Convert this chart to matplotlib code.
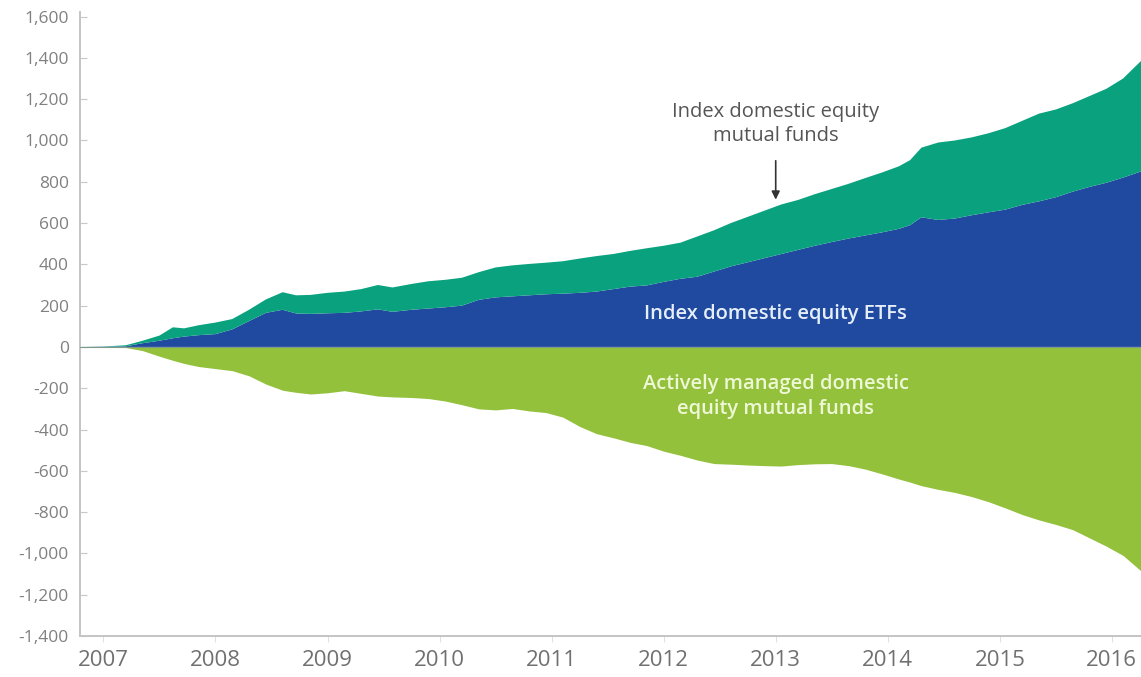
import matplotlib.pyplot as plt
from matplotlib.ticker import FuncFormatter

plt.rcParams['font.family'] = ['Open Sans', 'DejaVu Sans']

# cumulative flows, billions of dollars (decimal years)
years = [2006.79, 2007.00, 2007.20, 2007.35, 2007.50, 2007.62, 2007.72, 2007.85,
         2008.00, 2008.15, 2008.30, 2008.45, 2008.60, 2008.72, 2008.85,
         2009.00, 2009.15, 2009.30, 2009.45, 2009.58, 2009.75, 2009.90,
         2010.05, 2010.20, 2010.35, 2010.50, 2010.65, 2010.80, 2010.95,
         2011.10, 2011.25, 2011.40, 2011.55, 2011.70, 2011.85,
         2012.00, 2012.15, 2012.30, 2012.45, 2012.60, 2012.75, 2012.90,
         2013.05, 2013.20, 2013.35, 2013.50, 2013.65, 2013.80, 2013.95,
         2014.10, 2014.20, 2014.30, 2014.45, 2014.60, 2014.75, 2014.90,
         2015.05, 2015.20, 2015.35, 2015.50, 2015.65, 2015.80, 2015.95,
         2016.10, 2016.26]

etf = [0, 1, 3, 18, 30, 42, 50, 57,
       62, 85, 125, 165, 180, 162, 160,
       163, 165, 172, 182, 170, 180, 186,
       192, 200, 228, 240, 245, 250, 255,
       258, 262, 268, 280, 292, 298,
       315, 330, 340, 365, 390, 410, 430,
       450, 470, 490, 508, 525, 540, 555,
       572, 590, 628, 615, 622, 638, 652,
       665, 688, 705, 725, 752, 775, 795,
       820, 850]

index_mf = [0, 1, 5, 12, 25, 53, 40, 48,
            56, 50, 55, 65, 85, 88, 92,
            99, 103, 108, 118, 118, 125, 132,
            133, 135, 134, 145, 150, 152, 153,
            157, 166, 172, 170, 173, 180,
            175, 175, 195, 200, 210, 220, 230,
            240, 242, 250, 257, 265, 278, 290,
            303, 315, 337, 375, 378, 377, 383,
            395, 407, 425, 425, 428, 440, 455,
            480, 535]

active = [0, -1, -3, -18, -45, -65, -80, -95,
          -105, -115, -140, -180, -210, -220, -228,
          -222, -212, -225, -238, -242, -245, -250,
          -262, -280, -300, -305, -298, -310, -318,
          -340, -385, -420, -440, -462, -478,
          -505, -525, -548, -565, -568, -572, -575,
          -577, -570, -566, -565, -575, -592, -615,
          -640, -655, -672, -690, -705, -725, -750,
          -780, -812, -838, -860, -885, -925, -965,
          -1010, -1085]

year_ticks = list(range(2007, 2017))
y_ticks = list(range(-1400, 1601, 200))

c_etf = '#1f4a9f'
c_index = '#0aa27e'
c_active = '#93c13c'

fig = plt.figure(figsize=(11.41, 6.77), dpi=100)
ax = fig.add_axes([0.070, 0.0606, 0.930, 0.921])

ax.stackplot(years, etf, index_mf, colors=[c_etf, c_index], linewidth=0)
ax.fill_between(years, active, 0, color=c_active, linewidth=0)
ax.axhline(0, color='#7f9a86', lw=0.8, zorder=3)

ax.set_xlim(2006.79, 2016.26)
ax.set_ylim(-1400, 1620)
ax.set_xticks(year_ticks)
ax.set_yticks(y_ticks)
ax.yaxis.set_major_formatter(FuncFormatter(lambda v, p: '{:,}'.format(int(v)).replace('\u2212', '-')))

for s in ['top', 'right']:
    ax.spines[s].set_visible(False)
for s in ['left', 'bottom']:
    ax.spines[s].set_color('#c4c4c4')
    ax.spines[s].set_linewidth(1.4)

ax.tick_params(axis='y', direction='in', length=5, color='#c8c8c8', labelsize=12.5,
               labelcolor='#808080', pad=8)
ax.tick_params(axis='x', direction='out', length=4, color='#e0e0e0', labelsize=16,
               labelcolor='#707070', pad=6)

# labels on the areas
ax.text(2013.0, 1080, 'Index domestic equity\nmutual funds', ha='center', va='center',
        fontsize=14.5, color='#555555', linespacing=1.3)
ax.annotate('', xy=(2013.0, 700), xytext=(2013.0, 915),
            arrowprops=dict(arrowstyle='-|>', color='#333333', lw=1.2, mutation_scale=12))
ax.text(2013.0, 160, 'Index domestic equity ETFs', ha='center', va='center',
        fontsize=14.5, fontweight='semibold', color='#e6eefa')
ax.text(2013.0, -240, 'Actively managed domestic\nequity mutual funds', ha='center', va='center',
        fontsize=14.5, fontweight='semibold', color='#eef7d6', linespacing=1.3)

plt.savefig('out.png', dpi=100)
